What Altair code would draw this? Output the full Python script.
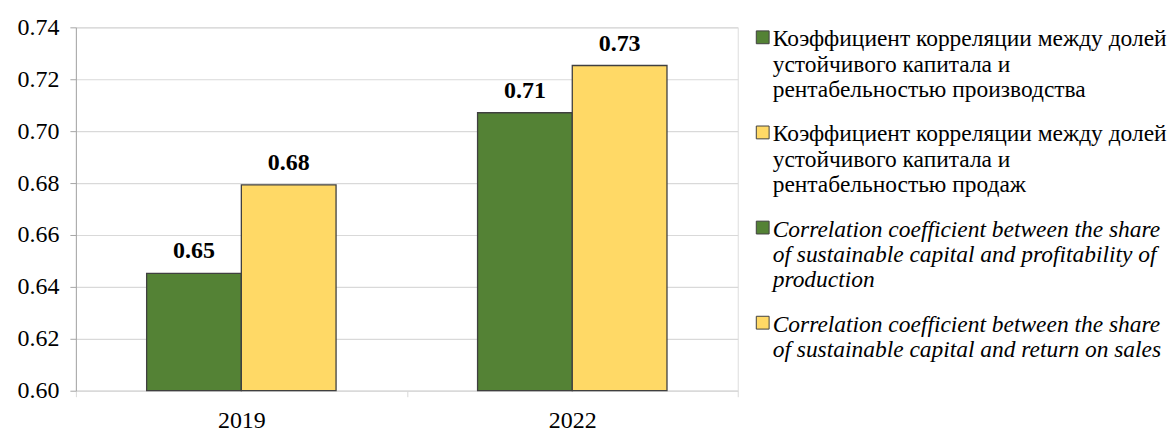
import altair as alt
import pandas as pd

# ---- data ----
years = ["2019", "2022"]
series_keys = ["production", "sales"]
production_values = [0.6452, 0.7071]   # green bars
sales_values = [0.6793, 0.7253]        # yellow bars
series_colors = ["#548235", "#FFD966"]
y_ticks = [0.60, 0.62, 0.64, 0.66, 0.68, 0.70, 0.72, 0.74]

legend_texts = [
    "Коэффициент корреляции между долей\nустойчивого капитала и\nрентабельностью производства",
    "Коэффициент корреляции между долей\nустойчивого капитала и\nрентабельностью продаж",
    "Correlation coefficient between the share\nof sustainable capital and profitability of\nproduction",
    "Correlation coefficient between the share\nof sustainable capital and return on sales",
]
legend_colors = ["#548235", "#FFD966", "#548235", "#FFD966"]
legend_styles = ["normal", "normal", "italic", "italic"]

FONT = "Times New Roman, Liberation Serif, serif"

rows = []
for i, y in enumerate(years):
    rows.append({"year": y, "series": series_keys[0], "value": production_values[i]})
    rows.append({"year": y, "series": series_keys[1], "value": sales_values[i]})
df = pd.DataFrame(rows)

base = alt.Chart(df).encode(
    x=alt.X(
        "year:N",
        sort=years,
        scale=alt.Scale(paddingInner=0, paddingOuter=0),
        axis=alt.Axis(
            title=None, labelAngle=0, tickBand="extent", grid=False,
            domainColor="#D9D9D9", tickColor="#D9D9D9", tickSize=6,
            labelPadding=12, labelFont=FONT, labelFontSize=24, labelColor="black",
        ),
    ),
    xOffset=alt.XOffset(
        "series:N", sort=series_keys,
        scale=alt.Scale(paddingInner=0, paddingOuter=0.747),
    ),
    y=alt.Y(
        "value:Q",
        scale=alt.Scale(domain=[0.60, 0.74], nice=False, zero=False),
        axis=alt.Axis(
            title=None, values=y_ticks, format=".2f",
            domainColor="#A6A6A6", tickColor="#A6A6A6", tickSize=6,
            labelPadding=11, labelFont=FONT, labelFontSize=24, labelColor="black",
            gridColor="#D9D9D9", gridWidth=1.2,
        ),
    ),
)

bars = base.mark_bar(stroke="#404040", strokeWidth=1.3).encode(
    y2=alt.Y2(datum=0.60),
    color=alt.Color("series:N", scale=alt.Scale(domain=series_keys, range=series_colors), legend=None),
)
labels = base.mark_text(
    baseline="bottom", dy=-10, font=FONT, fontSize=24, fontWeight="bold", color="black"
).encode(text=alt.Text("value:Q", format=".2f"))

bar_chart = (bars + labels).properties(width=663, height=364)

# ---- custom legend ----
leg_df = pd.DataFrame({
    "order": list(range(len(legend_texts))),
    "text": legend_texts,
    "color": legend_colors,
    "style": legend_styles,
})
leg_y = alt.Y("order:Q", scale=alt.Scale(domain=[0, 3.82], reverse=True, nice=False, zero=False), axis=None)
leg_base = alt.Chart(leg_df)
leg_squares = leg_base.mark_square(size=165, stroke="#404040", strokeWidth=1, opacity=1, filled=True, yOffset=10).encode(
    x=alt.value(6), y=leg_y, color=alt.Color("color:N", scale=None)
)
leg_text_normal = leg_base.mark_text(
    align="left", baseline="top", lineBreak="\n", lineHeight=25.5,
    font=FONT, fontSize=23.5, color="black"
).encode(x=alt.value(16), y=leg_y, text="text:N").transform_filter(alt.datum.style == "normal")
leg_text_italic = leg_base.mark_text(
    align="left", baseline="top", lineBreak="\n", lineHeight=25.5,
    font=FONT, fontSize=23.5, fontStyle="italic", color="black"
).encode(x=alt.value(16), y=leg_y, text="text:N").transform_filter(alt.datum.style == "italic")

legend_chart = (leg_squares + leg_text_normal + leg_text_italic).properties(
    width=400, height=364, view=alt.ViewBackground(stroke="transparent", fill="transparent")
)

chart = alt.hconcat(bar_chart, legend_chart, spacing=15).configure_view(
    stroke="transparent", strokeWidth=0
).configure(
    padding={"left": 8, "top": 6, "right": 0, "bottom": 0}
)

chart.save("out.html", embed_options={"renderer": "svg", "actions": False})
